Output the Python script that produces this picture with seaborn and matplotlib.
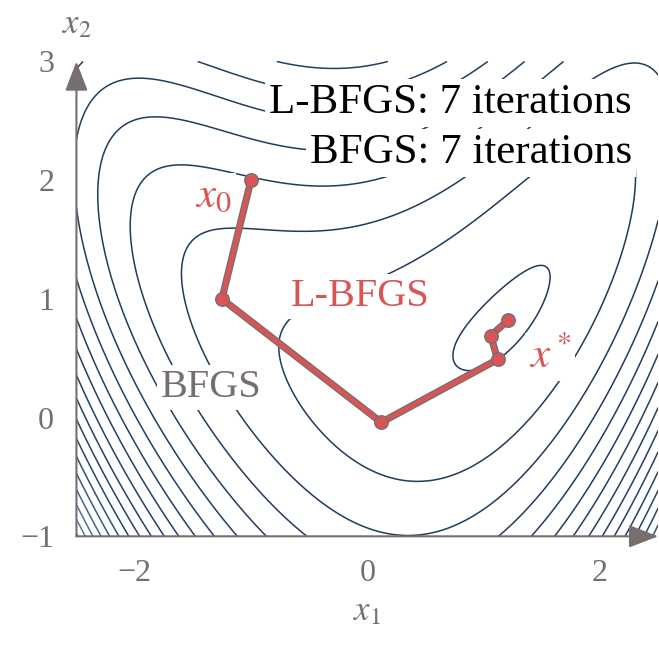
import numpy as np
import matplotlib
matplotlib.use('Agg')
import matplotlib.pyplot as plt
import matplotlib.colors as mcolors
import seaborn as sns

# iterates of both methods (the two paths coincide)
lbfgs_x1 = [-1.0, -1.25, 0.12, 1.12, 1.06, 1.21]
lbfgs_x2 = [2.0, 1.0, -0.04, 0.49, 0.69, 0.82]
bfgs_x1 = [-1.0, -1.25, 0.12, 1.12, 1.06, 1.21]
bfgs_x2 = [2.0, 1.0, -0.04, 0.49, 0.69, 0.82]

xticks = [-2, 0, 2]
yticks = [-1, 0, 1, 2, 3]
contour_levels = [0.08, 1.04, 2.04, 3.04, 4.04, 5.04, 6.04, 7.04, 8.04, 9.04, 10.04,
                  11.04, 12.04, 13.04, 14.04, 15.04, 16.04, 17.04, 18.04, 19.04, 20.04]

# banana shaped test function (polynomial matched to the drawn contours)
def f(x1, x2):
    return (0.5724 - 0.700268*x1 + 0.437692*x1**2 + 0.000403937*x1**3 + 0.151217*x1**4
            + x2*(-0.680745 + 0.146924*x1 - 0.77294*x1**2)
            + x2**2*(0.9662 - 0.06015*x1 + 0.0503684*x1**2))

X1, X2 = np.meshgrid(np.linspace(-2.5, 2.5, 400), np.linspace(-1, 3, 400))
Z = f(X1, X2)

gray = '#776f6f'
red = '#d95555'
sns.set_theme(style='white')
plt.rcParams['font.family'] = ['Liberation Serif', 'DejaVu Serif']
plt.rcParams['mathtext.fontset'] = 'stix'

fig = plt.figure(figsize=(6.59, 6.45), dpi=100)
ax = fig.add_axes([0.116, 0.1685, 0.8828, 0.7362])

#-----contours, dark inside and lighter towards the corners--------------------
cmap = mcolors.LinearSegmentedColormap.from_list('blues', ['#1f3b5c', '#23446a', '#6f9fd6'])
cols = [cmap(min(1, i / 20.0)**1.3) for i in range(len(contour_levels))]
ax.contour(X1, X2, Z, levels=contour_levels, colors=cols, linewidths=1.1)

#-----paths--------------------------------------------------------------------
sns.lineplot(x=bfgs_x1, y=bfgs_x2, sort=False, estimator=None, color=gray, lw=5.2, ax=ax)
sns.lineplot(x=lbfgs_x1, y=lbfgs_x2, sort=False, estimator=None, color=red, lw=3.3, ax=ax)
sns.scatterplot(x=lbfgs_x1, y=lbfgs_x2, s=95, color=red, edgecolor=gray, linewidth=1.0, zorder=5, ax=ax)

#-----axes with arrow heads----------------------------------------------------
ax.set_xlim(-2.5, 2.5)
ax.set_ylim(-1, 3)
ax.set_xticks(xticks)
ax.set_yticks(yticks)
ax.set_xticklabels([str(t).replace('-', '\u2212') for t in xticks])
ax.set_yticklabels([str(t).replace('-', '\u2212') for t in yticks])
ax.tick_params(direction='inout', length=16, width=1.0, colors=gray, labelsize=23, pad=8)
for s in ax.spines.values():
    s.set_visible(False)
arrow = dict(arrowstyle='-|>,head_length=1.3,head_width=0.5', color=gray, lw=1.5,
             shrinkA=0, shrinkB=0, mutation_scale=14)
ax.annotate('', xy=(1, 0), xytext=(0, 0), xycoords='axes fraction', arrowprops=arrow)
ax.annotate('', xy=(0, 1), xytext=(0, 0), xycoords='axes fraction', arrowprops=arrow)

ax.text(0.5, -0.159, r'$x_1$', transform=ax.transAxes, ha='center', va='center', color=gray, fontsize=25)
ax.text(0.0, 1.077, r'$x_2$', transform=ax.transAxes, ha='center', va='center', color=gray, fontsize=25)

#-----labels (white boxes cut the contour lines)--------------------------------
box = dict(facecolor='white', edgecolor='none', pad=3)
ax.text(2.275, 2.564, 'L-BFGS: 7 iterations', ha='right', va='baseline', fontsize=31, color='black', bbox=box, zorder=6)
ax.text(2.275, 2.143, 'BFGS: 7 iterations', ha='right', va='baseline', fontsize=31, color='black', bbox=box, zorder=6)
ax.text(-0.063, 1.02, 'L-BFGS', ha='center', va='center', fontsize=29, color=red, bbox=box, zorder=4)
ax.text(-1.344, 0.255, 'BFGS', ha='center', va='center', fontsize=29, color=gray, bbox=box, zorder=4)
ax.text(-1.325, 1.865, r'$x_0$', ha='center', va='center', fontsize=31, color=red, bbox=box, zorder=4)
ax.text(1.57, 0.51, r'$x^*$', ha='center', va='center', fontsize=31, color=red, bbox=box, zorder=4)

fig.savefig('out.png', dpi=100)
